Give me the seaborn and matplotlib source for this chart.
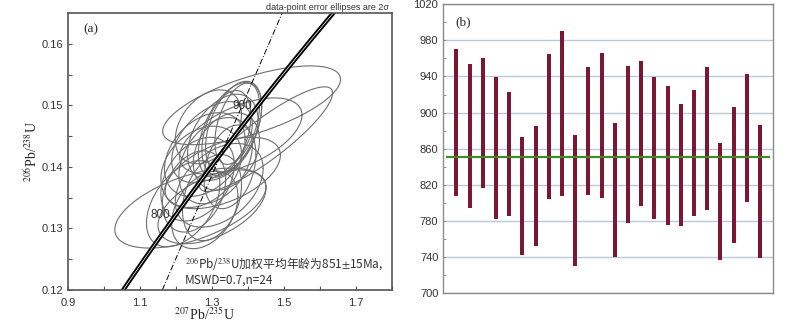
import numpy as np
import pandas as pd
import matplotlib
matplotlib.use("Agg")
import matplotlib.pyplot as plt
import seaborn as sns

# ---- panel (a): U-Pb concordia data (2 sigma error ellipses) ----
ell_x   = [1.41, 1.45, 1.24, 1.38, 1.30, 1.33, 1.36, 1.35, 1.34, 1.37, 1.33, 1.30,
           1.28, 1.27, 1.31, 1.26, 1.32, 1.25, 1.22, 1.28, 1.30, 1.34, 1.29, 1.35]
ell_y   = [0.1500, 0.1445, 0.1333, 0.1450, 0.1335, 0.1390, 0.1465, 0.1460, 0.1455, 0.1470,
           0.1448, 0.1440, 0.1420, 0.1400, 0.1410, 0.1380, 0.1370, 0.1360, 0.1340, 0.1330,
           0.1350, 0.1425, 0.1465, 0.1400]
ell_sx  = [0.247, 0.185, 0.210, 0.170, 0.150, 0.160, 0.078, 0.088, 0.068, 0.062, 0.098, 0.112,
           0.112, 0.112, 0.102, 0.102, 0.122, 0.088, 0.102, 0.092, 0.082, 0.092, 0.092, 0.072]
ell_sy  = [0.0064, 0.0085, 0.0065, 0.0062, 0.0060, 0.0058, 0.0074, 0.0077, 0.0069, 0.0066,
           0.0070, 0.0066, 0.0068, 0.0066, 0.0070, 0.0068, 0.0068, 0.0066, 0.0070, 0.0063,
           0.0070, 0.0063, 0.0060, 0.0068]
ell_rho = [0.66, 0.88, 0.54, 0.55, 0.50, 0.50, 0.45, 0.50, 0.40, 0.45, 0.40, 0.45,
           0.35, 0.30, 0.35, 0.35, 0.40, 0.30, 0.45, 0.35, 0.30, 0.30, 0.35, 0.30]

# decay constants (per year) and labelled concordia ages (Ma)
lam238 = 1.55125e-10
lam235 = 9.8485e-10
age_labels = [800, 900]

# reference dash-dot line
dd_x = [1.162, 1.495]
dd_y = [0.120, 0.165]

# ---- panel (b): 206Pb/238U ages, 2 sigma ranges (Ma) ----
age_hi = [970, 954, 960, 939, 923, 873, 885, 965, 990, 875, 951, 966,
          888, 952, 957, 939, 929, 909, 925, 951, 866, 906, 943, 886]
age_lo = [808, 794, 816, 782, 785, 742, 752, 804, 808, 730, 809, 805,
          740, 778, 797, 782, 775, 774, 786, 792, 737, 755, 801, 739]
mean_age = 851

sns.set_style("white")
plt.rcParams['font.family'] = ['Liberation Sans', 'DejaVu Sans']
plt.rcParams['mathtext.fontset'] = 'stix'

fig = plt.figure(figsize=(8, 3.25), dpi=100)
ax1 = fig.add_axes([0.085, 0.108, 0.405, 0.852])
ax2 = fig.add_axes([0.554, 0.098, 0.4125, 0.889])

# ellipses
t = np.linspace(0, 2 * np.pi, 200)
for cx, cy, sx, sy, r in zip(ell_x, ell_y, ell_sx, ell_sy, ell_rho):
    ex = cx + sx * np.cos(t)
    ey = cy + sy * (r * np.cos(t) + np.sqrt(1 - r ** 2) * np.sin(t))
    ax1.plot(ex, ey, color='#6e6e6e', lw=0.8)

# concordia curve
ages = np.linspace(650, 1050, 200) * 1e6
conc = pd.DataFrame({'x': np.exp(lam235 * ages) - 1, 'y': np.exp(lam238 * ages) - 1})
sns.lineplot(data=conc, x='x', y='y', sort=False, color='black', lw=3.2, ax=ax1)
sns.lineplot(data=conc, x='x', y='y', sort=False, color='white', lw=0.5, ax=ax1)
for a in age_labels:
    px = np.exp(lam235 * a * 1e6) - 1
    py = np.exp(lam238 * a * 1e6) - 1
    ax1.text(px - 0.015, py, str(a), ha='right', va='center', fontsize=8.5, color='#333333')

ax1.plot(dd_x, dd_y, color='black', lw=0.7, ls=(0, (6, 2, 1, 2)))

ax1.set_xlim(0.9, 1.8)
ax1.set_ylim(0.12, 0.165)
ax1.set_xticks([0.9, 1.1, 1.3, 1.5, 1.7])
ax1.set_xticks([1.0, 1.2, 1.4, 1.6, 1.8], minor=True)
ax1.set_yticks([0.12, 0.13, 0.14, 0.15, 0.16])
ax1.set_yticks([0.125, 0.135, 0.145, 0.155], minor=True)
ax1.set_xticklabels(['0.9', '1.1', '1.3', '1.5', '1.7'])
ax1.set_yticklabels(['0.12', '0.13', '0.14', '0.15', '0.16'])
ax1.tick_params(which='both', direction='in', length=3, width=0.8, colors='#555555',
                labelcolor='#333333', labelsize=8, bottom=True, left=True)
ax1.tick_params(axis='x', pad=6)
for s in ax1.spines.values():
    s.set_color('#555555')
    s.set_linewidth(1.2)
ax1.set_xlabel(r'$^{207}$Pb/$^{235}$U', family='Liberation Serif', fontsize=10,
               labelpad=-1, x=0.42)
ax1.set_ylabel(r'$^{206}$Pb/$^{238}$U', family='Liberation Serif', fontsize=10, labelpad=1)
ax1.text(0.046, 0.942, '(a)', transform=ax1.transAxes, family='Liberation Serif',
         fontsize=9.5, va='center')
ax1.text(0.99, 1.005, 'data-point error ellipses are 2σ', transform=ax1.transAxes,
         ha='right', va='bottom', fontsize=6.5, color='#333333')
ax1.text(0.36, 0.125,
         r'$^{206}$Pb/$^{238}$U加权平均年龄为851$\pm$15Ma,' + '\nMSWD=0.7,n=24',
         transform=ax1.transAxes, ha='left', va='top', fontsize=8.5, color='#333333',
         family=['Noto Sans CJK SC', 'DejaVu Sans'], linespacing=1.2)

# panel (b)
idx = np.arange(len(age_hi))
ax2.set_axisbelow(True)
ax2.grid(axis='y', color='#b9cbd8', lw=1)
ax2.bar(idx, np.array(age_hi) - np.array(age_lo), bottom=age_lo, width=0.3,
        color='#7b1633', edgecolor='none')
ax2.hlines(mean_age, -0.78, 23.75, color='#3f8a2a', lw=1.6)
ax2.set_xlim(-1, 24)
ax2.set_ylim(700, 1020)
ax2.set_yticks(np.arange(700, 1021, 40))
ax2.set_yticks(np.arange(720, 1020, 40), minor=True)
ax2.set_xticks([])
ax2.tick_params(axis='y', which='both', direction='in', length=2, width=0.6,
                colors='#888888', labelcolor='#333333', labelsize=8, left=True)
for s in ax2.spines.values():
    s.set_color('#8a8a8a')
    s.set_linewidth(1)
ax2.text(0.036, 0.938, '(b)', transform=ax2.transAxes, family='Liberation Serif',
         fontsize=9.5, va='center')

fig.savefig('out.png', dpi=100)
